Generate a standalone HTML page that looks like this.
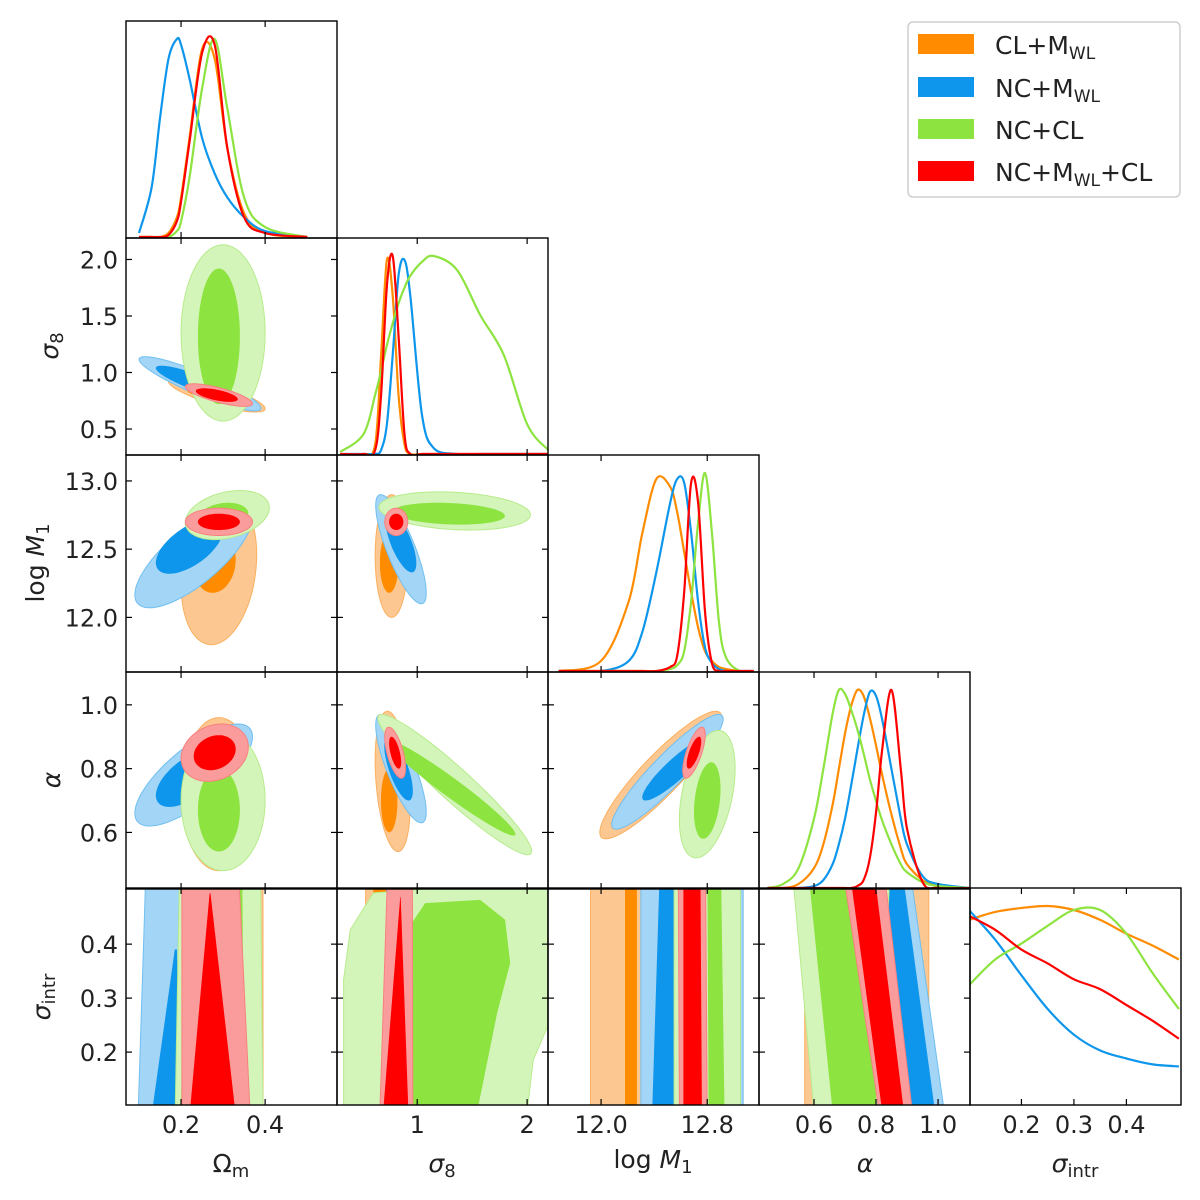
<!DOCTYPE html>
<html><head><meta charset="utf-8"><style>
html,body{margin:0;padding:0;background:#fff;}
svg{display:block;font-family:"DejaVu Sans","Liberation Sans",sans-serif;}
</style></head><body>
<svg id="chart" width="1200" height="1200" viewBox="0 0 1200 1200" xmlns="http://www.w3.org/2000/svg">
<g id="fills"></g><g id="frames"></g><g id="labels"></g>
<g>
  <rect x="908" y="22" width="272" height="175" rx="5" fill="#fff" stroke="#cfcfcf" stroke-width="1.5"/>
  <rect x="918" y="34" width="56" height="20" fill="#ff8c00"/>
  <rect x="918" y="77" width="56" height="20" fill="#0d96eb"/>
  <rect x="918" y="119" width="56" height="20" fill="#8de33f"/>
  <rect x="918" y="161" width="56" height="20" fill="#ff0000"/>
  <text x="995" y="54" font-size="25" fill="#222">CL+M<tspan font-size="17" dy="5">WL</tspan></text>
  <text x="995" y="97" font-size="25" fill="#222">NC+M<tspan font-size="17" dy="5">WL</tspan></text>
  <text x="995" y="139" font-size="25" fill="#222">NC+CL</text>
  <text x="995" y="181" font-size="25" fill="#222">NC+M<tspan font-size="17" dy="5">WL</tspan><tspan dy="-5">+CL</tspan></text>
</g>
</svg>
<script>
// ---------- data ----------
const PARAMS = ['omega-m','sigma-8','log-m1','alpha','sigma-intr'];
const RANGES = [[0.069,0.571],[0.27,2.19],[11.6,13.19],[0.4226,1.103],[0.102,0.504]];
const TICKS = [[0.2,0.4],[1,2],[12.0,12.8],[0.6,0.8,1.0],[0.2,0.3,0.4]];
const TICK_LABELS = [['0.2','0.4'],['1','2'],['12.0','12.8'],['0.6','0.8','1.0'],['0.2','0.3','0.4']];
const YTICKS = [[],[0.5,1.0,1.5,2.0],[12.0,12.5,13.0],[0.6,0.8,1.0],[0.2,0.3,0.4]];
const YTICK_LABELS = [[],['0.5','1.0','1.5','2.0'],['12.0','12.5','13.0'],['0.6','0.8','1.0'],['0.2','0.3','0.4']];
const SERIES = ['orange','blue','green','red'];
const DARK = {orange:'#ff8c00',blue:'#0d96eb',green:'#8de33f',red:'#ff0000'};
const LIGHT = {orange:'#fcc791',blue:'#a3d5f6',green:'#d4f5b9',red:'#fb9c9c'};
const EDGE = {orange:'#f9b060',blue:'#70bff0',green:'#b7eb8c',red:'#f88080'};

// 1D marginals (normalised heights)
const grid_om = [0.10,0.13,0.15,0.17,0.19,0.20,0.22,0.25,0.28,0.31,0.35,0.40,0.50];
const om_orange = [0,0,0,0.02,0.1,0.2,0.5,0.95,0.9,0.45,0.12,0.02,0];
const om_blue = [0.02,0.25,0.6,0.9,1,0.97,0.8,0.5,0.32,0.2,0.1,0.03,0];
const om_green = [0,0,0,0,0.03,0.08,0.3,0.75,1,0.65,0.2,0.05,0];
const om_red = [0,0,0,0.01,0.08,0.18,0.48,0.93,0.97,0.45,0.1,0.02,0];

const grid_s8 = [0.299,0.511,0.618,0.671,0.724,0.777,0.83,0.884,0.937,1.043,1.15,1.362,1.575,1.788,2.001,2.192];
const s8_orange = [0,0,0.05,0.5,0.98,0.8,0.3,0.05,0,0,0,0,0,0,0,0];
const s8_blue = [0,0,0,0.02,0.15,0.5,0.9,0.98,0.8,0.2,0.03,0,0,0,0,0];
const s8_green = [0.01,0.1,0.3,0.42,0.55,0.66,0.76,0.84,0.9,0.97,1.0,0.93,0.7,0.5,0.15,0.02];
const s8_red = [0,0,0.02,0.3,0.85,1,0.6,0.1,0,0,0,0,0,0,0,0];

const grid_m1 = [11.68,11.998,12.207,12.312,12.417,12.521,12.574,12.626,12.678,12.731,12.783,12.835,12.888,12.94,13.045,13.15];
const m1_orange = [0,0.05,0.35,0.7,0.97,0.93,0.8,0.6,0.4,0.22,0.1,0.05,0.02,0.01,0,0];
const m1_blue = [0,0,0.05,0.2,0.5,0.85,0.97,0.95,0.7,0.35,0.12,0.04,0.01,0,0,0];
const m1_green = [0,0,0,0,0,0.01,0.03,0.1,0.35,0.75,1,0.7,0.25,0.07,0,0];
const m1_red = [0,0,0,0,0,0.02,0.08,0.4,0.95,0.85,0.3,0.04,0,0,0,0];

const grid_al = [0.45,0.5,0.55,0.6,0.63,0.66,0.68,0.7,0.72,0.74,0.76,0.78,0.8,0.82,0.85,0.88,0.9,0.95,1.0,1.1];
const al_orange = [0,0,0.02,0.1,0.22,0.42,0.6,0.78,0.92,1.0,0.97,0.86,0.72,0.57,0.37,0.2,0.12,0.04,0.01,0];
const al_blue = [0,0,0,0.01,0.04,0.12,0.22,0.35,0.52,0.7,0.87,0.99,0.97,0.85,0.6,0.35,0.22,0.06,0.02,0];
const al_green = [0,0.02,0.1,0.35,0.6,0.88,1.0,0.98,0.9,0.8,0.68,0.55,0.44,0.34,0.22,0.12,0.08,0.03,0.01,0];
const al_red = [0,0,0,0,0,0,0,0,0,0.01,0.04,0.15,0.38,0.7,1.0,0.6,0.3,0.03,0,0];

const grid_si = [0.10,0.15,0.20,0.25,0.30,0.35,0.40,0.45,0.50];
const si_orange = [0.93,0.97,0.99,1.0,0.98,0.93,0.86,0.8,0.73];
const si_blue = [0.98,0.83,0.65,0.48,0.35,0.27,0.23,0.2,0.19];
const si_green = [0.6,0.73,0.81,0.9,0.98,0.98,0.86,0.66,0.48];
const si_red = [0.95,0.88,0.78,0.71,0.63,0.58,0.5,0.42,0.33];

// 2D contours as ellipses: [series, level, cx, cy, sx, sy, rho]
const ell_om_s8 = [
 ['orange','outer',0.285,0.8,0.115,0.15,-0.8],['orange','inner',0.28,0.8,0.07,0.09,-0.7],
 ['blue','outer',0.245,0.9,0.145,0.24,-0.9],['blue','inner',0.23,0.92,0.09,0.14,-0.85],
 ['green','outer',0.30,1.35,0.1,0.78,0],['green','inner',0.29,1.32,0.05,0.6,0],
 ['red','outer',0.29,0.8,0.08,0.1,-0.75],['red','inner',0.285,0.8,0.05,0.06,-0.6]];
const ell_om_m1 = [
 ['orange','outer',0.29,12.35,0.09,0.55,0.2],['orange','inner',0.28,12.4,0.05,0.22,0.1],
 ['blue','outer',0.23,12.45,0.14,0.38,0.75],['blue','inner',0.22,12.52,0.08,0.2,0.6],
 ['green','outer',0.31,12.75,0.1,0.18,0.3],['green','inner',0.3,12.74,0.06,0.1,0.2],
 ['red','outer',0.29,12.7,0.08,0.1,0],['red','inner',0.29,12.7,0.05,0.06,0]];
const ell_om_al = [
 ['orange','outer',0.29,0.72,0.09,0.24,0],['orange','inner',0.28,0.7,0.05,0.12,0],
 ['blue','outer',0.23,0.78,0.14,0.16,0.75],['blue','inner',0.22,0.77,0.08,0.09,0.6],
 ['green','outer',0.3,0.7,0.1,0.22,0],['green','inner',0.29,0.67,0.05,0.13,0],
 ['red','outer',0.28,0.85,0.08,0.09,0.2],['red','inner',0.28,0.85,0.05,0.055,0.2]];
const ell_s8_m1 = [
 ['orange','outer',0.767,12.45,0.15,0.45,0],['orange','inner',0.745,12.4,0.085,0.22,0],
 ['blue','outer',0.852,12.5,0.23,0.4,-0.8],['blue','inner',0.852,12.55,0.14,0.22,-0.7],
 ['green','outer',1.341,12.78,0.69,0.14,-0.2],['green','inner',1.288,12.76,0.51,0.08,-0.2],
 ['red','outer',0.809,12.7,0.105,0.1,0],['red','inner',0.809,12.7,0.065,0.06,0]];
const ell_s8_al = [
 ['orange','outer',0.777,0.76,0.16,0.22,-0.3],['orange','inner',0.745,0.7,0.075,0.1,0],
 ['blue','outer',0.852,0.8,0.23,0.17,-0.8],['blue','inner',0.83,0.8,0.13,0.1,-0.7],
 ['green','outer',1.341,0.75,0.7,0.22,-0.95],['green','inner',1.309,0.74,0.585,0.15,-0.97],
 ['red','outer',0.799,0.85,0.095,0.08,-0.6],['red','inner',0.799,0.85,0.055,0.05,-0.6]];
const ell_m1_al = [
 ['orange','outer',12.45,0.78,0.46,0.2,0.9],['orange','inner',12.52,0.78,0.31,0.12,0.9],
 ['blue','outer',12.5,0.79,0.42,0.18,0.92],['blue','inner',12.57,0.8,0.26,0.1,0.9],
 ['green','outer',12.8,0.72,0.21,0.2,0.4],['green','inner',12.8,0.7,0.1,0.12,0.3],
 ['red','outer',12.7,0.85,0.085,0.08,0.7],['red','inner',12.7,0.85,0.055,0.05,0.7]];

// bottom row bands: [series, level, x-left-bottom, x-right-bottom, x-left-top, x-right-top, top-sigma]
const band_om_si = [
 ['orange','outer',0.167,0.395,0.167,0.395,0.6],['orange','inner',0.2,0.33,0.2,0.33,0.6],
 ['blue','outer',0.098,0.186,0.119,0.198,0.6],['blue','inner',0.131,0.198,0.185,0.19,0.39],
 ['green','outer',0.186,0.395,0.198,0.388,0.6],['green','inner',0.2,0.35,0.21,0.345,0.6],
 ['red','outer',0.202,0.364,0.202,0.333,0.6],['red','inner',0.221,0.329,0.268,0.27,0.494]];
const band_s8_si = [
 ['orange','outer',0.53,1.0,0.53,1.0,0.6],['orange','inner',0.6,0.85,0.6,0.85,0.6],
 ['blue','outer',0.637,1.118,0.746,1.146,0.6],['blue','inner',0.7,0.95,0.72,0.97,0.6],
 ['red','outer',0.66,0.96,0.74,0.955,0.6],['red','inner',0.69,0.92,0.845,0.85,0.487]];
const green_s8_si_outer_x = [0.6,0.39,0.33,0.33,2.0,2.055,2.25,2.25];
const green_s8_si_outer_y = [0.495,0.426,0.334,0.09,0.09,0.185,0.278,0.52];
const green_s8_si_inner_x = [0.937,0.937,1.073,1.573,1.8,1.846,1.728,1.546];
const green_s8_si_inner_y = [0.09,0.435,0.476,0.482,0.445,0.365,0.273,0.09];
const band_m1_si = [
 ['orange','outer',11.92,13.07,11.92,13.07,0.6],['orange','inner',12.18,12.27,12.18,12.27,0.6],
 ['blue','outer',12.3,13.07,12.3,13.07,0.6],['blue','inner',12.385,12.596,12.45,12.63,0.6],
 ['green','outer',12.55,13.05,12.55,13.05,0.6],['green','inner',12.81,12.93,12.8,12.9,0.6],
 ['red','outer',12.59,12.8,12.58,12.785,0.6],['red','inner',12.62,12.76,12.62,12.747,0.6]];
const band_al_si = [
 ['orange','outer',0.57,0.97,0.57,0.97,0.6],['orange','inner',0.62,0.8,0.62,0.8,0.6],
 ['blue','outer',0.62,1.02,0.555,0.894,0.6],['blue','inner',0.9,0.99,0.82,0.87,0.6],
 ['green','outer',0.6,0.81,0.52,0.85,0.6],['green','inner',0.66,0.8,0.57,0.8,0.6],
 ['red','outer',0.81,0.917,0.677,0.813,0.6],['red','inner',0.82,0.89,0.7,0.78,0.6]];

// ---------- geometry ----------
const NS='http://www.w3.org/2000/svg';
const COL_LEFT=[126,337,548,759,970], ROW_TOP=[21,238,455,672,888], PW=211, PH=217;
function sx(p,v){const r=RANGES[p];return COL_LEFT[p]+(v-r[0])/(r[1]-r[0])*PW;}
function sy(p,v){const r=RANGES[p];return ROW_TOP[p]+PH-(v-r[0])/(r[1]-r[0])*PH;}
const fills=document.getElementById('fills'), frames=document.getElementById('frames'), labels=document.getElementById('labels');
function mk(tag,attrs,parent){const e=document.createElementNS(NS,tag);for(const k in attrs)e.setAttribute(k,attrs[k]);parent.appendChild(e);return e;}
const defs=mk('defs',{},document.getElementById('chart'));
function clipFor(r,c){const id='clip'+r+c;const cp=mk('clipPath',{id:id},defs);mk('rect',{x:COL_LEFT[c],y:ROW_TOP[r],width:PW,height:PH},cp);return 'url(#'+id+')';}

function drawShape(g,pts,series,level,name){
  const d='M'+pts.map(p=>p[0].toFixed(1)+','+p[1].toFixed(1)).join('L')+'Z';
  const el=mk('path',{d:d,fill:level==='outer'?LIGHT[series]:DARK[series],stroke:level==='outer'?EDGE[series]:'none','stroke-width':1},g);
  
  
}
function drawEllipses(list,r,c){
  const g=mk('g',{'clip-path':clipFor(r,c)},fills);
  
  
  list.forEach(e=>{
    const [s,l,cx,cy,ax,ay,rho]=e;const pts=[];const q=Math.sqrt(1-rho*rho);
    for(let i=0;i<72;i++){const t=i/72*2*Math.PI;pts.push([sx(c,cx+ax*Math.cos(t)),sy(r,cy+ay*(rho*Math.cos(t)+q*Math.sin(t)))]);}
    drawShape(g,pts,s,l,'contour-'+s+'-'+l);
  });
  return g;
}
function drawBands(list,c,g){
  if(!g){g=mk('g',{'clip-path':clipFor(4,c)},fills);
    
    }
  list.forEach(b=>{
    const [s,l,xlb,xrb,xlt,xrt,top]=b;
    const pts=[[sx(c,xlb),sy(4,0.09)],[sx(c,xrb),sy(4,0.09)],[sx(c,xrt),sy(4,top)],[sx(c,xlt),sy(4,top)]];
    drawShape(g,pts,s,l,'contour-'+s+'-'+l);
  });
  return g;
}
function smoothPath(pts){
  let d='M'+pts[0][0].toFixed(1)+','+pts[0][1].toFixed(1);
  for(let i=0;i<pts.length-1;i++){
    const p0=pts[i-1]||pts[i],p1=pts[i],p2=pts[i+1],p3=pts[i+2]||p2;
    const c1=[p1[0]+(p2[0]-p0[0])/6,p1[1]+(p2[1]-p0[1])/6],c2=[p2[0]-(p3[0]-p1[0])/6,p2[1]-(p3[1]-p1[1])/6];
    d+='C'+c1.map(v=>v.toFixed(1))+' '+c2.map(v=>v.toFixed(1))+' '+p2[0].toFixed(1)+','+p2[1].toFixed(1);
  }
  return d;
}
function drawMarginal(p,grid,vals,series){
  const g=mk('g',{'clip-path':'url(#clip'+p+p+')'},fills);
  const top=ROW_TOP[p]+18, base=ROW_TOP[p]+PH-1;
  const pts=grid.map((x,i)=>[sx(p,x),base-vals[i]*(base-top)]);
  const el=mk('path',{d:smoothPath(pts),fill:'none',stroke:DARK[series],'stroke-width':2.2},g);
  
  
}

// ---------- draw contours ----------
for(let p=0;p<5;p++)clipFor(p,p);
drawEllipses(ell_om_s8,1,0);
drawEllipses(ell_om_m1,2,0);
drawEllipses(ell_om_al,3,0);
drawEllipses(ell_s8_m1,2,1);
drawEllipses(ell_s8_al,3,1);
drawEllipses(ell_m1_al,3,2);
drawBands(band_om_si,0);
(function(){
  const g=mk('g',{'clip-path':clipFor(4,1)},fills);
  
  
  drawBands(band_s8_si.slice(0,4),1,g);
  drawShape(g,green_s8_si_outer_x.map((x,i)=>[sx(1,x),sy(4,green_s8_si_outer_y[i])]),'green','outer','contour-green-outer');
  drawShape(g,green_s8_si_inner_x.map((x,i)=>[sx(1,x),sy(4,green_s8_si_inner_y[i])]),'green','inner','contour-green-inner');
  drawBands(band_s8_si.slice(4),1,g);
})();
drawBands(band_m1_si,2);
drawBands(band_al_si,3);

// ---------- marginals ----------
[[0,grid_om,[om_orange,om_blue,om_green,om_red]],[1,grid_s8,[s8_orange,s8_blue,s8_green,s8_red]],
 [2,grid_m1,[m1_orange,m1_blue,m1_green,m1_red]],[3,grid_al,[al_orange,al_blue,al_green,al_red]],
 [4,grid_si,[si_orange,si_blue,si_green,si_red]]].forEach(([p,grid,arr])=>{
  arr.forEach((vals,i)=>drawMarginal(p,grid,vals,SERIES[i]));
});

// ---------- frames & ticks ----------
const TL=6;
for(let r=0;r<5;r++)for(let c=0;c<=r;c++){
  const x0=COL_LEFT[c],y0=ROW_TOP[r];
  const fr=mk('rect',{x:x0,y:y0,width:PW,height:PH,fill:'none',stroke:'#000','stroke-width':1.4},frames);
  
  
  TICKS[c].forEach(t=>{const x=sx(c,t);
    mk('line',{x1:x,x2:x,y1:y0+PH,y2:y0+PH-TL,stroke:'#000','stroke-width':1.2},frames);
    mk('line',{x1:x,x2:x,y1:y0,y2:y0+TL,stroke:'#000','stroke-width':1.2},frames);});
  if(r!==c)YTICKS[r].forEach(t=>{const y=sy(r,t);
    mk('line',{x1:x0,x2:x0+TL,y1:y,y2:y,stroke:'#000','stroke-width':1.2},frames);
    mk('line',{x1:x0+PW,x2:x0+PW-TL,y1:y,y2:y,stroke:'#000','stroke-width':1.2},frames);});
}
// x tick labels
for(let c=0;c<5;c++)TICKS[c].forEach((t,i)=>{
  const el=mk('text',{x:sx(c,t),y:1133,'font-size':24,'text-anchor':'middle',fill:'#222'},labels);
  el.textContent=TICK_LABELS[c][i];
  
  
});
// y tick labels
for(let r=1;r<5;r++)YTICKS[r].forEach((t,i)=>{
  const el=mk('text',{x:118,y:sy(r,t)+9,'font-size':24,'text-anchor':'end',fill:'#222'},labels);
  el.textContent=YTICK_LABELS[r][i];
  
  
});
</script>
<script>
(function(){
const L=document.getElementById('labels');
const html = `
<text x="231" y="1172" font-size="25" text-anchor="middle" fill="#222">Ω<tspan font-size="18" dy="5">m</tspan></text>
<text x="442" y="1172" font-size="25" text-anchor="middle" fill="#222" font-style="italic">σ<tspan font-size="18" dy="5" font-style="normal">8</tspan></text>
<text x="653" y="1168" font-size="25" text-anchor="middle" fill="#222">log <tspan font-style="italic">M</tspan><tspan font-size="18" dy="5">1</tspan></text>
<text x="865" y="1172" font-size="25" text-anchor="middle" fill="#222" font-style="italic">α</text>
<text x="1075" y="1172" font-size="25" text-anchor="middle" fill="#222" font-style="italic">σ<tspan font-size="18" dy="5" font-style="normal">intr</tspan></text>
<text transform="translate(58,346) rotate(-90)" font-size="25" text-anchor="middle" fill="#222" font-style="italic">σ<tspan font-size="18" dy="5" font-style="normal">8</tspan></text>
<text transform="translate(44,563) rotate(-90)" font-size="25" text-anchor="middle" fill="#222">log <tspan font-style="italic">M</tspan><tspan font-size="18" dy="5">1</tspan></text>
<text transform="translate(60,780) rotate(-90)" font-size="25" text-anchor="middle" fill="#222" font-style="italic">α</text>
<text transform="translate(50,997) rotate(-90)" font-size="25" text-anchor="middle" fill="#222" font-style="italic">σ<tspan font-size="18" dy="5" font-style="normal">intr</tspan></text>`;
const tmp=document.createElementNS('http://www.w3.org/2000/svg','g');
tmp.innerHTML=html;
while(tmp.firstChild)L.appendChild(tmp.firstChild);
})();
</script>
</body></html>
